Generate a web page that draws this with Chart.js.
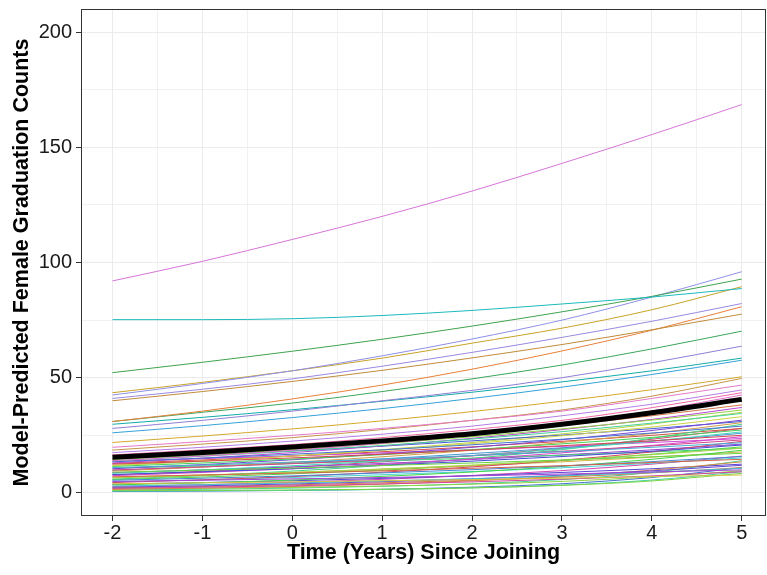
<!DOCTYPE html>
<html>
<head>
<meta charset="utf-8">
<script src="https://cdn.jsdelivr.net/npm/chart.js@4.4.1/dist/chart.umd.min.js"></script>
<style>
  body { margin: 0; background: #fff; }
  canvas { display: block; }
</style>
</head>
<body>
<canvas id="courbes" width="767" height="575"></canvas>
<script>
// Années depuis l'adhésion (axe x)
const years = [-2, -1, 0, 1, 2, 3, 4, 5];
const yTickValues = [0, 50, 100, 150, 200];

// Courbe moyenne (trait noir épais)
const meanCurve = [15.5, 17.6, 19.9, 22.6, 25.7, 29.8, 34.8, 40.6];

// Courbes hautes, bien séparées
const upperSeries = [
  [92, 100.5, 110, 120, 131, 143, 155.5, 168.5],
  [75.2, 75.2, 75.6, 77, 79.2, 82, 85, 88.7],
  [52.2, 56.7, 61.5, 66.7, 72.4, 78.6, 85.3, 92.8],
  [42.5, 47.5, 53, 59.5, 66.8, 75, 85, 96],
  [43.5, 48, 53, 58.5, 65, 71.5, 79.5, 89.5],
  [41, 45, 49.5, 55, 61, 67.5, 74.5, 82.2],
  [40, 44, 48.4, 53.2, 58.6, 64.4, 70.8, 77.6],
  [31, 35.5, 40.8, 46.8, 53.7, 61.6, 70.6, 80.8]
];
const upperColors = ["#D675D8", "#1DB9BC", "#3FA34D", "#8F8FE8", "#C9A227", "#9A88E0", "#C08B3A", "#E8803A"];

// Courbes intermédiaires
const middleSeries = [
  [31, 35, 39, 44, 49.5, 55.5, 62.5, 70.2],
  [28, 31.5, 35.5, 40, 44.5, 50, 56.5, 63.7],
  [29.8, 32.8, 36.1, 39.8, 43.7, 48.2, 53, 58.5],
  [26.1, 29.2, 32.7, 36.6, 41, 45.9, 51.4, 57.6],
  [21.9, 24.7, 27.8, 31.3, 35.3, 39.8, 44.8, 50.4],
  [19.8, 22.3, 25, 28, 31.5, 35.5, 41, 46.8],
  [18.6, 21.2, 24, 27.5, 31.5, 36, 42, 49.7],
  [17.5, 19.8, 22.5, 25.5, 29, 33.5, 38.5, 44.7],
  [16.5, 18.7, 21, 24, 27.5, 31.5, 37, 43.5],
  [14, 16, 18.5, 21.5, 25, 29.5, 35.5, 42.5]
];
const middleColors = ["#3BA55C", "#8F7FD6", "#12ABA8", "#35A2D9", "#D4A72C", "#E579C8", "#C59449", "#B47EE6", "#F067A6", "#E26FCB"];

// Faisceau du bas
const lowerSeries = [
  [15, 17.1, 19.6, 22.4, 25.6, 29.3, 33.5, 38.2],
  [14.5, 16.5, 18.8, 21.4, 24.4, 27.8, 31.6, 36],
  [14, 15.9, 18.1, 20.6, 23.4, 26.6, 30.3, 34.5],
  [13.5, 15.1, 16.8, 18.7, 20.9, 23.3, 26, 29],
  [13, 15.1, 17.5, 20.4, 23.7, 27.5, 31.9, 37.1],
  [12.5, 13.8, 15.2, 16.8, 18.6, 20.5, 22.6, 25],
  [12, 13.9, 16, 18.5, 21.4, 24.8, 28.6, 33.1],
  [11.5, 13, 14.7, 16.6, 18.8, 21.3, 24.1, 27.3],
  [11, 12.1, 13.4, 14.7, 16.2, 17.9, 19.8, 21.8],
  [10.5, 12.3, 14.4, 16.9, 19.8, 23.1, 27.1, 31.6],
  [10, 11.3, 12.7, 14.3, 16.1, 18.1, 20.4, 23],
  [9.5, 11.2, 13.3, 15.7, 18.5, 21.9, 25.8, 30.5],
  [9, 9.9, 10.8, 11.9, 13, 14.3, 15.7, 17.2],
  [8.5, 10, 11.8, 13.8, 16.2, 19.1, 22.5, 26.5],
  [8, 9.2, 10.5, 12, 13.8, 15.8, 18.1, 20.8],
  [7.5, 8.9, 10.5, 12.4, 14.7, 17.4, 20.6, 24.4],
  [7, 7.8, 8.6, 9.6, 10.7, 11.8, 13.2, 14.6],
  [6.5, 7.6, 8.9, 10.4, 12.1, 14.2, 16.6, 19.4],
  [6, 7.5, 9.5, 11.9, 15, 18.8, 23.7, 29.8],
  [5.5, 6.4, 7.4, 8.7, 10.1, 11.7, 13.6, 15.8],
  [5, 5.5, 6.1, 6.7, 7.4, 8.2, 9.1, 10],
  [4.5, 5.7, 7.1, 9, 11.3, 14.2, 17.8, 22.4],
  [4, 4.4, 4.8, 5.3, 5.8, 6.4, 7.1, 7.8],
  [3.5, 4.4, 5.6, 7.2, 9.1, 11.5, 14.6, 18.5],
  [3, 3.6, 4.3, 5.2, 6.2, 7.4, 8.9, 10.7],
  [2.5, 3.1, 3.9, 4.9, 6.1, 7.7, 9.6, 12],
  [2, 2.5, 3.1, 3.9, 4.8, 6, 7.4, 9.2],
  [1.5, 2.1, 2.8, 3.8, 5.3, 7.2, 9.9, 13.5],
  [1, 1.1, 1.3, 1.6, 2.2, 3.3, 5.2, 8.5],
  [0.8, 0.9, 1.1, 1.5, 2.2, 3.4, 5.6, 9.2],
  [14.8, 16.5, 18.3, 20.3, 22.6, 25.1, 27.9, 31],
  [13.8, 14.9, 16.1, 17.4, 18.7, 20.2, 21.9, 23.6],
  [12.8, 14.3, 16, 17.9, 20, 22.4, 25, 28],
  [11.8, 13.8, 16.1, 18.8, 21.9, 25.6, 29.9, 35],
  [10.8, 11.7, 12.8, 13.9, 15.1, 16.4, 17.8, 19.4],
  [9.8, 11.3, 12.9, 14.8, 17.1, 19.6, 22.5, 25.9],
  [8.8, 10, 11.3, 12.8, 14.5, 16.5, 18.7, 21.2],
  [7.8, 9.4, 11.2, 13.5, 16.2, 19.4, 23.3, 28],
  [6.8, 7.8, 8.9, 10.3, 11.8, 13.5, 15.5, 17.8],
  [5.8, 6.9, 8.3, 9.9, 11.8, 14, 16.8, 20],
  [4.8, 5.7, 6.7, 7.9, 9.3, 10.9, 12.9, 15.2],
  [3.8, 4.5, 5.3, 6.3, 7.5, 8.9, 10.5, 12.5],
  [2.8, 3.6, 4.6, 5.9, 7.6, 9.7, 12.5, 16],
  [2.2, 2.8, 3.5, 4.4, 5.5, 6.9, 8.7, 11],
  [1.8, 2, 2.4, 3, 3.8, 5, 7, 9.6],
  [1.3, 1.6, 2.1, 2.9, 4, 5.8, 8.9, 14],
  [0.6, 0.8, 1.1, 1.6, 2.5, 4, 6.7, 11]
];

// Construction des jeux de données
function toPoints(values) {
  return values.map((v, i) => ({ x: years[i], y: v }));
}

function thinLine(values, color) {
  return {
    data: toPoints(values),
    borderColor: color,
    borderWidth: 1,
    pointRadius: 0,
    cubicInterpolationMode: "monotone",
  };
}

const datasets = [];
upperSeries.forEach((s, i) => datasets.push(thinLine(s, upperColors[i])));
middleSeries.forEach((s, i) => datasets.push(thinLine(s, middleColors[i])));
lowerSeries.forEach((s, i) => {
  const hue = (i * 67 + 20) % 360;
  datasets.push(thinLine(s, "hsl(" + hue + ", 62%, 55%)"));
});
datasets.push({
  data: toPoints(meanCurve),
  borderColor: "#000",
  borderWidth: 5,
  pointRadius: 0,
  cubicInterpolationMode: "monotone",
  order: -1,
});

// Cadre du panneau (style ggplot theme_bw)
const panelBorder = {
  id: "panelBorder",
  afterDraw(chart) {
    const a = chart.chartArea;
    const ctx = chart.ctx;
    ctx.save();
    ctx.strokeStyle = "#333";
    ctx.lineWidth = 1;
    ctx.strokeRect(a.left + 0.5, a.top + 0.5, a.right - a.left - 1, a.bottom - a.top - 1);
    ctx.restore();
  },
};

Chart.defaults.font.family = "'Liberation Sans', Arial, sans-serif";

const config = {
  type: "line",
  data: { datasets },
  plugins: [panelBorder],
  options: {
    responsive: false,
    animation: false,
    devicePixelRatio: 1,
    layout: { padding: { top: 9, right: 1, bottom: 0, left: 0 } },
    plugins: { legend: { display: false }, tooltip: { enabled: false } },
    scales: {
      x: {
        type: "linear",
        min: -2.35,
        max: 5.27,
        afterFit: (scale) => {
          scale.height = 59;
          scale.paddingLeft = 0;
          scale.paddingRight = 0;
        },
        border: { display: false },
        grid: {
          color: "#EBEBEB",
          lineWidth: (c) => (Number.isInteger(c.tick.value) ? 1 : 0.7),
          tickLength: 5,
          tickColor: (c) => (Number.isInteger(c.tick.value) ? "#333" : "rgba(0,0,0,0)"),
        },
        ticks: {
          stepSize: 0.5,
          includeBounds: false,
          autoSkip: false,
          maxRotation: 0,
          padding: 0,
          color: "#1a1a1a",
          font: { size: 20 },
          callback: (v) => (Number.isInteger(v) ? v : ""),
        },
        title: {
          display: true,
          text: "Time (Years) Since Joining",
          color: "#000",
          font: { size: 21.5, weight: "bold" },
          padding: { top: 0, bottom: 9 },
        },
      },
      y: {
        type: "linear",
        min: -10,
        max: 210,
        afterFit: (scale) => {
          scale.width = 81;
          scale.paddingTop = 0;
          scale.paddingBottom = 0;
        },
        border: { display: false },
        grid: {
          color: "#EBEBEB",
          lineWidth: (c) => (c.tick.value % 50 === 0 ? 1 : 0.7),
          tickLength: 5,
          tickColor: (c) => (yTickValues.includes(c.tick.value) ? "#333" : "rgba(0,0,0,0)"),
        },
        ticks: {
          stepSize: 25,
          includeBounds: false,
          padding: 4,
          color: "#1a1a1a",
          font: { size: 20 },
          callback: (v) => (yTickValues.includes(v) ? v : ""),
        },
        title: {
          display: true,
          text: "Model-Predicted Female Graduation Counts",
          color: "#000",
          font: { size: 21.5, weight: "bold" },
          padding: { top: 9, bottom: 0 },
        },
      },
    },
  },
};

window.addEventListener("DOMContentLoaded", () => {
  const ctx = document.getElementById("courbes").getContext("2d");
  new Chart(ctx, config);
});
</script>
</body>
</html>
